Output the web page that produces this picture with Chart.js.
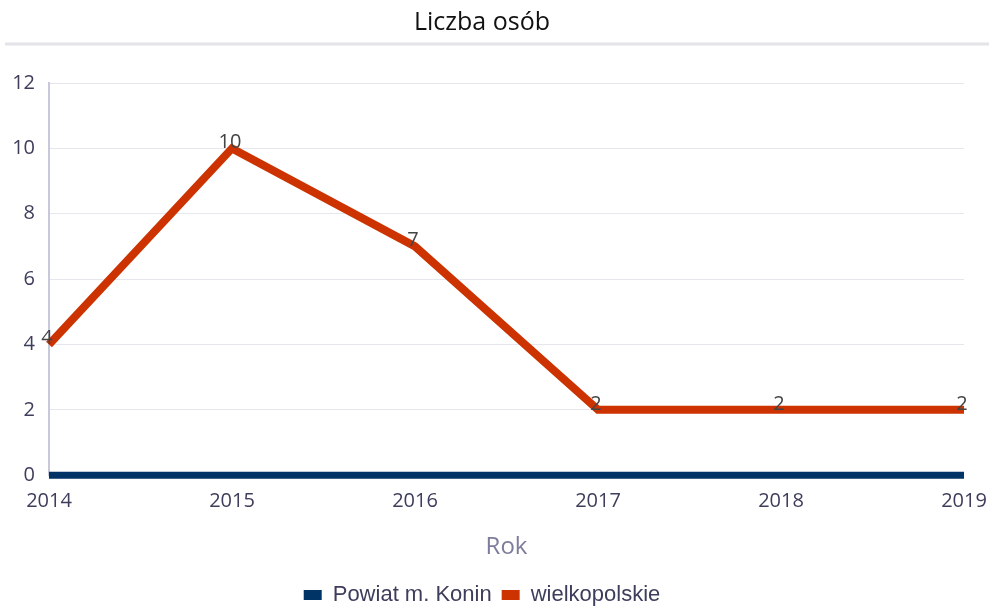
<!DOCTYPE html>
<html>
<head>
<meta charset="utf-8">
<script src="https://cdn.jsdelivr.net/npm/chart.js@4"></script>
<style>
  html, body { margin: 0; padding: 0; background: #fff; }
  #wrap { width: 989px; height: 609px; }
</style>
</head>
<body>
<div id="wrap"><canvas id="myLineChart" width="989" height="609"></canvas></div>
<script>
var years = ['2014', '2015', '2016', '2017', '2018', '2019'];
var konin = [0, 0, 0, 0, 0, 0];
var wielkopolskie = [4, 10, 7, 2, 2, 2];
var yTicks = [0, 2, 4, 6, 8, 10, 12];

var tickColor = '#3d3d5c';

// szara linia pod tytułem
var titleRule = {
  id: 'titleRule',
  afterDraw: function (chart) {
    var c = chart.ctx;
    c.save();
    c.strokeStyle = '#e4e4e8';
    c.lineWidth = 3;
    c.beginPath();
    c.moveTo(5, 44);
    c.lineTo(chart.width, 44);
    c.stroke();
    c.restore();
  }
};

// etykiety z wartościami nad punktami
var valueLabels = {
  id: 'valueLabels',
  afterDatasetsDraw: function (chart) {
    var c = chart.ctx;
    var meta = chart.getDatasetMeta(1);
    c.save();
    c.font = '20px "Open Sans"';
    c.fillStyle = '#444';
    c.textAlign = 'center';
    c.textBaseline = 'bottom';
    meta.data.forEach(function (pt, i) {
      c.fillText(wielkopolskie[i], pt.x - 2, pt.y + 4);
    });
    c.restore();
  }
};

var ctx = document.getElementById('myLineChart').getContext('2d');
var myLineChart = new Chart(ctx, {
  type: 'line',
  data: {
    labels: years,
    datasets: [{
      label: 'Powiat m. Konin',
      data: konin,
      borderColor: '#003366',
      backgroundColor: '#003366',
      borderWidth: 7,
      pointRadius: 0,
      tension: 0,
      clip: false
    }, {
      label: 'wielkopolskie',
      data: wielkopolskie,
      borderColor: '#cc3300',
      backgroundColor: '#cc3300',
      borderWidth: 8,
      pointRadius: 0,
      tension: 0,
      clip: false
    }]
  },
  options: {
    responsive: false,
    animation: false,
    layout: { padding: { left: 0, right: 25, top: 0, bottom: -7 } },
    scales: {
      x: {
        offset: false,
        afterFit: function (axis) {
          // skrajne etykiety lat mogą wystawać poza obszar wykresu
          axis.paddingLeft = 0;
          axis.paddingRight = 0;
        },
        grid: { display: false, drawTicks: false },
        border: { display: false },
        ticks: {
          color: tickColor,
          font: { family: 'Open Sans', size: 20 },
          padding: 14,
          maxRotation: 0
        },
        title: {
          display: true,
          text: 'Rok',
          color: '#7c7c9c',
          font: { family: 'Open Sans', size: 24 },
          padding: { top: 6, bottom: 12 }
        }
      },
      y: {
        min: 0,
        max: 12,
        afterBuildTicks: function (axis) {
          axis.ticks = yTicks.map(function (v) { return { value: v }; });
        },
        afterFit: function (axis) { axis.width = 49; },
        grid: { color: '#e6e6ee', lineWidth: 1, drawTicks: false },
        border: { display: true, color: '#c8c8dc', width: 2 },
        ticks: {
          color: tickColor,
          font: { family: 'Open Sans', size: 20 },
          padding: 14
        }
      }
    },
    plugins: {
      title: {
        display: true,
        text: 'Liczba osób',
        color: '#111',
        font: { family: 'Open Sans', size: 25, weight: 'normal' },
        padding: { top: 8, bottom: 45 }
      },
      legend: {
        position: 'bottom',
        labels: {
          color: tickColor,
          font: { family: 'Liberation Sans', size: 22 },
          boxWidth: 18,
          boxHeight: 10,
          padding: 10,
          generateLabels: function (chart) {
            var items = Chart.defaults.plugins.legend.labels.generateLabels(chart);
            items.forEach(function (it) { it.lineWidth = 0; });
            return items;
          }
        }
      },
      tooltip: { enabled: false }
    }
  },
  plugins: [titleRule, valueLabels]
});
</script>
</body>
</html>
